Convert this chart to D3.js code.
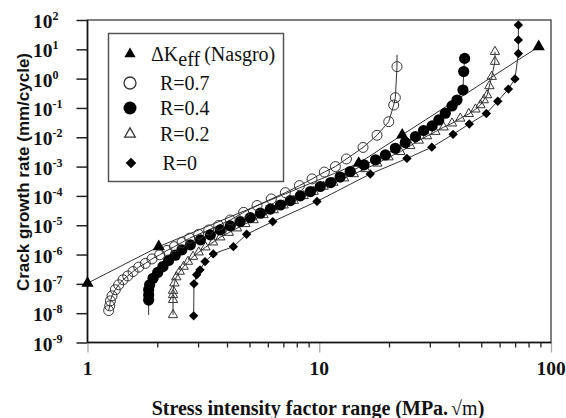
<!DOCTYPE html>
<html>
<head>
<meta charset="utf-8">
<script src="https://cdn.jsdelivr.net/npm/d3@7"></script>
<style>
  body { margin: 0; background: #fff; }
  text { fill: #111; }
</style>
</head>
<body>
<svg id="chart" width="566" height="418"></svg>
<script>
// values: [delta K (MPa.sqrt m), da/dN (mm/cycle)]
const nasgro = [[1.0, 1.05e-7], [2.03, 1.86e-6], [14.8, 1.3e-3], [22.8, 1.2e-2], [88.5, 12.3]]

const r07 = [
  [1.234, 1.23e-8], [1.247, 1.78e-8], [1.255, 2.63e-8], [1.276, 3.89e-8], [1.318, 6.3e-8],
  [1.363, 9.3e-8], [1.423, 1.38e-7], [1.491, 1.86e-7], [1.572, 2.63e-7], [1.663, 3.72e-7],
  [1.777, 5.0e-7], [1.898, 7.1e-7], [2.048, 9.8e-7], [2.203, 1.38e-6], [2.371, 1.86e-6],
  [2.556, 2.57e-6], [2.759, 3.63e-6], [3.018, 4.9e-6], [3.334, 6.9e-6], [3.681, 9.8e-6],
  [4.131, 1.51e-5], [4.72, 2.75e-5], [5.39, 4.7e-5], [6.21, 7.9e-5], [7.14, 1.29e-4],
  [8.21, 2.24e-4], [9.31, 3.8e-4], [10.52, 6.5e-4], [11.74, 1.0e-3], [13.1, 1.82e-3],
  [15.45, 4.5e-3], [17.75, 1.17e-2], [19.95, 3.4e-2], [20.96, 0.126], [21.3, 0.224],
  [21.65, 2.57]
]

const r04 = [
  [1.836, 2.8e-8], [1.836, 4.2e-8], [1.836, 6.3e-8], [1.855, 9.3e-8], [1.918, 1.55e-7],
  [2.008, 2.45e-7], [2.117, 3.9e-7], [2.239, 6.3e-7], [2.393, 9.5e-7], [2.556, 1.45e-6],
  [2.78, 2.14e-6], [3.07, 3.16e-6], [3.39, 4.7e-6], [3.74, 6.9e-6], [4.13, 9.5e-6],
  [4.56, 1.33e-5], [5.04, 1.82e-5], [5.57, 2.57e-5], [6.15, 3.55e-5], [6.8, 4.9e-5],
  [7.5, 6.9e-5], [8.28, 1.0e-4], [9.16, 1.41e-4], [10.1, 2.09e-4], [11.2, 2.85e-4],
  [12.3, 4.4e-4], [13.6, 6.8e-4], [15.6, 1.15e-3], [17.5, 1.7e-3], [19.3, 2.5e-3],
  [21.3, 4.2e-3], [23.5, 6.6e-3], [26.0, 1.05e-2], [28.2, 1.7e-2], [30.7, 2.45e-2],
  [32.8, 3.9e-2], [35.0, 6.6e-2], [37.4, 0.117], [39.3, 0.186], [41.7, 0.41],
  [42.0, 1.74], [42.4, 4.9]
]

const r02 = [
  [2.339, 8.7e-9], [2.339, 2.85e-8], [2.339, 4.2e-8], [2.339, 5.9e-8], [2.37, 1.05e-7],
  [2.416, 1.7e-7], [2.5, 2.63e-7], [2.6, 3.9e-7], [2.715, 5.75e-7], [2.853, 8.5e-7],
  [3.02, 1.2e-6], [3.23, 1.78e-6], [3.48, 2.63e-6], [3.74, 3.9e-6], [4.07, 5.6e-6],
  [4.42, 7.9e-6], [4.8, 1.11e-5], [5.21, 1.51e-5], [5.75, 2.24e-5], [6.36, 3.3e-5],
  [7.02, 4.8e-5], [7.76, 6.9e-5], [8.57, 1.0e-4], [9.46, 1.41e-4], [10.45, 2.09e-4],
  [11.5, 2.85e-4], [12.8, 4.0e-4], [14.1, 5.6e-4], [15.8, 8.3e-4], [17.8, 1.29e-3],
  [19.9, 2.1e-3], [22.4, 3.2e-3], [24.7, 5.1e-3], [26.9, 7.8e-3], [29.2, 1.1e-2],
  [31.7, 1.55e-2], [34.4, 2.2e-2], [37.4, 3.0e-2], [40.6, 4.4e-2], [44.2, 6.3e-2],
  [47.2, 9.0e-2], [49.6, 0.126], [51.3, 0.186], [53.0, 0.275], [54.2, 0.56],
  [55.5, 1.17], [57.3, 3.8], [57.3, 8.3]
]

const r0 = [
  [2.871, 8.1e-9], [2.88, 1.0e-7], [2.958, 2.04e-7], [3.058, 3.0e-7], [3.214, 5.75e-7],
  [3.49, 1.05e-6], [4.26, 1.86e-6], [4.86, 4.9e-6], [6.3, 1.33e-5], [9.78, 6.5e-5],
  [16.6, 5.6e-4], [23.9, 1.9e-3], [30.6, 4.6e-3], [37.8, 1.26e-2], [44.4, 2.85e-2],
  [52.6, 6.5e-2], [58.9, 0.17], [65.5, 0.44], [69.9, 0.98], [72.3, 7.2],
  [72.3, 20.9], [72.3, 67.6]
]

// fit lines run a little past the last marker on these two
const r07LineEnd = [[21.65, 6.5]]
const r04LineStart = [[1.836, 8.7e-9]]

const yTickExps = [2, 1, 0, -1, -2, -3, -4, -5, -6, -7, -8, -9]
const xMajor = [1, 10, 100]
const xMinor = [2, 3, 4, 5, 6, 7, 8, 9, 20, 30, 40, 50, 60, 70, 80, 90]
const legendLabels = ['R=0.7', 'R=0.4', 'R=0.2', 'R=0']

const serif = "'Liberation Serif', 'Times New Roman', serif"
const sans = "'Liberation Sans', Arial, sans-serif"

let svg = d3.select('#chart')
let x = d3.scaleLog().domain([1, 100]).range([87.5, 551])
let y = d3.scaleLog().domain([1e-9, 1e2]).range([342.5, 20])

// ticks
svg.append('g').attr('transform', 'translate(87.5,0)')
  .call(d3.axisLeft(y).tickValues(yTickExps.map(e => Math.pow(10, e))).tickSize(11).tickFormat(''))
  .call(g => g.select('.domain').remove())
  .selectAll('line').attr('stroke', '#222').attr('stroke-width', 1.5)
svg.append('g').attr('transform', 'translate(0,342.5)')
  .call(d3.axisBottom(x).tickValues(xMinor).tickSize(5).tickFormat(''))
  .call(g => g.select('.domain').remove())
  .selectAll('line').attr('stroke', '#222').attr('stroke-width', 1.3)
svg.append('g').attr('transform', 'translate(0,342.5)')
  .call(d3.axisBottom(x).tickValues(xMajor).tickSize(10).tickFormat(''))
  .call(g => g.select('.domain').remove())
  .selectAll('line').attr('stroke', '#aaa').attr('stroke-width', 1.3)

// frame
svg.append('rect').attr('x', 87.5).attr('y', 20).attr('width', 551 - 87.5).attr('height', 342.5 - 20)
  .attr('fill', 'none').attr('stroke', '#555').attr('stroke-width', 1.5)
svg.append('line').attr('x1', 87.5).attr('x2', 87.5).attr('y1', 20).attr('y2', 342.5)
  .attr('stroke', '#111').attr('stroke-width', 1.5)
svg.append('line').attr('x1', 87.5).attr('x2', 551).attr('y1', 342.5).attr('y2', 342.5)
  .attr('stroke', '#111').attr('stroke-width', 1.5)

// y tick labels 10^n
yTickExps.forEach(e => {
  let t = svg.append('text').attr('x', 33).attr('y', y(Math.pow(10, e)) + 8)
    .attr('font-family', serif).attr('font-weight', 700).attr('font-size', 19.5)
  t.append('tspan').text('10')
  t.append('tspan').attr('font-size', 12).attr('dy', -8).text(e)
})
// x tick labels
xMajor.forEach(v => {
  svg.append('text').attr('x', x(v)).attr('y', 375).attr('text-anchor', 'middle')
    .attr('font-family', serif).attr('font-weight', 700).attr('font-size', 19.5).text(v)
})

// axis titles
svg.append('text').attr('transform', 'translate(29,172) rotate(-90)').attr('text-anchor', 'middle')
  .attr('font-family', sans).attr('font-weight', 700).attr('font-size', 17)
  .text('Crack growth rate (mm/cycle)')
let xt = svg.append('text').attr('x', 318).attr('y', 415).attr('text-anchor', 'middle')
  .attr('font-family', serif).attr('font-weight', 700).attr('font-size', 20)
xt.append('tspan').text('Stress intensity factor range (MPa.')
xt.append('tspan').attr('font-weight', 400).attr('dx', 3).text('\u221Am')
xt.append('tspan').text(')')

// lines
let line = d3.line().x(d => x(d[0])).y(d => y(d[1]))
let lineSets = [nasgro, r07.concat(r07LineEnd), r04LineStart.concat(r04), r02, r0]
svg.append('g').selectAll('path').data(lineSets).enter().append('path')
  .attr('d', line).attr('fill', 'none').attr('stroke', '#333').attr('stroke-width', 1)

// markers
let tri = d3.symbol(d3.symbolTriangle)
let sq = d3.symbol(d3.symbolSquare)
function drawSeries(data, kind, g) {
  let sel = g.selectAll(null).data(data).enter()
  if (kind === 'open') {
    sel.append('circle').attr('cx', d => x(d[0])).attr('cy', d => y(d[1])).attr('r', 5)
      .attr('fill', 'none').attr('stroke', '#333').attr('stroke-width', 1)
  } else if (kind === 'filled') {
    sel.append('circle').attr('cx', d => x(d[0])).attr('cy', d => y(d[1])).attr('r', 5.6)
      .attr('fill', '#000')
  } else if (kind === 'openTri') {
    sel.append('path').attr('d', tri.size(38)())
      .attr('transform', d => 'translate(' + x(d[0]) + ',' + y(d[1]) + ')')
      .attr('fill', 'none').attr('stroke', '#333').attr('stroke-width', 1)
  } else if (kind === 'diamond') {
    sel.append('path').attr('d', sq.size(44)())
      .attr('transform', d => 'translate(' + x(d[0]) + ',' + y(d[1]) + ') rotate(45)')
      .attr('fill', '#000')
  } else {
    sel.append('path').attr('d', tri.size(65)())
      .attr('transform', d => 'translate(' + x(d[0]) + ',' + y(d[1]) + ')')
      .attr('fill', '#000')
  }
}
let marks = svg.append('g')
drawSeries(r0, 'diamond', marks.append('g'))
drawSeries(r02, 'openTri', marks.append('g'))
drawSeries(r04, 'filled', marks.append('g'))
drawSeries(r07, 'open', marks.append('g'))
drawSeries(nasgro, 'solidTri', marks.append('g'))

// legend
let lg = svg.append('g')
lg.append('rect').attr('x', 108.5).attr('y', 33.5).attr('width', 175).attr('height', 148)
  .attr('fill', '#fff').attr('stroke', '#555').attr('stroke-width', 1.5)
lg.append('path').attr('d', tri.size(55)()).attr('transform', 'translate(130,54)').attr('fill', '#000')
let lt = lg.append('text').attr('x', 151).attr('y', 61).attr('font-family', serif).attr('font-size', 20)
lt.append('tspan').text('\u0394K')
lt.append('tspan').attr('dy', 5).text('eff')
lt.append('tspan').attr('dy', -5).attr('dx', 4).text('(Nasgro)')

let rowY = [83, 108, 134, 163]
lg.append('circle').attr('cx', 130).attr('cy', rowY[0]).attr('r', 6)
  .attr('fill', 'none').attr('stroke', '#333').attr('stroke-width', 1.3)
lg.append('circle').attr('cx', 130).attr('cy', rowY[1]).attr('r', 6.5).attr('fill', '#000')
lg.append('path').attr('d', tri.size(48)()).attr('transform', 'translate(130,' + rowY[2] + ')')
  .attr('fill', 'none').attr('stroke', '#333').attr('stroke-width', 1.3)
lg.append('path').attr('d', sq.size(56)()).attr('transform', 'translate(131,' + rowY[3] + ') rotate(45)')
  .attr('fill', '#000')
legendLabels.forEach((s, i) => {
  lg.append('text').attr('x', i === 3 ? 162.5 : 160).attr('y', rowY[i] + 7)
    .attr('font-family', serif).attr('font-size', 20).text(s)
})
</script>
</body>
</html>
